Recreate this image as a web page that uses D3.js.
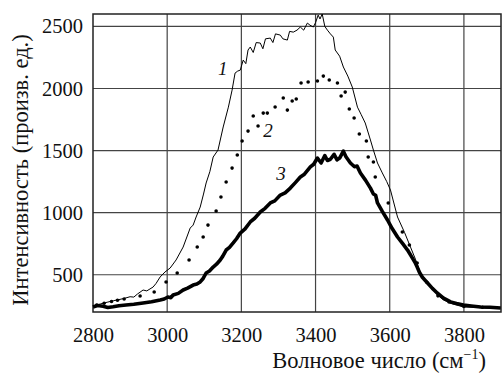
<!DOCTYPE html>
<html>
<head>
<meta charset="utf-8">
<script src="https://cdn.jsdelivr.net/npm/d3@7"></script>
<style>
  body { margin: 0; background: #fff; }
  #chart text { font-family: "Liberation Serif" !important; }
</style>
</head>
<body>
<svg id="chart" width="502" height="374"></svg>
<script>
// curve 1 — thin line
const curve1 = [
  [2800,248],[2820,265],[2840,280],[2855,291],[2870,300],[2885,310],[2900,323],[2910,320],
  [2920,345],[2935,377],[2945,370],[2962,401],[2970,430],[2981,482],[2994,522],[3008,554],
  [3024,619],[3043,723],[3062,876],[3070,900],[3078,965],[3089,1045],[3098,1150],[3105,1239],
  [3115,1330],[3124,1448],[3137,1504],[3151,1690],[3165,1850],[3175,1987],[3183,2124],
  [3190,2140],[3197,2148],[3205,2229],[3212,2200],[3218,2310],[3224,2334],[3232,2290],
  [3240,2370],[3251,2366],[3258,2320],[3265,2400],[3278,2406],[3285,2370],[3292,2440],
  [3305,2430],[3312,2400],[3324,2390],[3330,2460],[3340,2454],[3350,2470],[3359,2495],
  [3368,2470],[3378,2527],[3385,2510],[3394,2495],[3400,2530],[3407,2591],[3412,2560],
  [3418,2600],[3425,2500],[3432,2470],[3440,2440],[3448,2414],[3453,2310],[3465,2260],
  [3475,2173],[3487,2100],[3499,2012],[3513,1850],[3523,1790],[3534,1722],[3548,1585],
  [3556,1504],[3567,1400],[3580,1320],[3592,1250],[3602,1182],[3621,965],[3640,840],
  [3656,723],[3670,620],[3683,514],[3696,460],[3710,401],[3728,340],[3745,297],[3770,265],
  [3799,240],[3830,238],[3860,232],[3899,232]
];

// curve 2 — dots
const curve2 = [
  [2810,255],[2830,270],[2850,285],[2866,295],[2884,305],[2927,329],[2965,361],[2997,442],
  [3027,514],[3059,619],[3081,723],[3097,804],[3110,900],[3132,1013],[3145,1126],[3159,1247],
  [3175,1359],[3189,1464],[3202,1577],[3218,1657],[3232,1778],[3245,1698],[3259,1802],
  [3270,1802],[3291,1851],[3313,1923],[3324,1826],[3337,1899],[3348,1915],[3361,2044],
  [3380,2052],[3405,2060],[3421,2100],[3437,2068],[3459,2044],[3469,1939],[3480,1971],
  [3491,1835],[3504,1762],[3518,1633],[3537,1577],[3542,1448],[3556,1408],[3561,1287],
  [3596,1078],[3634,844],[3653,739],[3674,595],[3700,440],[3730,330],[3760,280],[3800,245],
  [3850,238]
];

// curve 3 — thick line
const curve3 = [
  [2800,240],[2812,252],[2827,246],[2840,236],[2854,242],[2870,250],[2889,256],[2910,262],
  [2935,272],[2958,282],[2981,297],[2992,305],[3002,321],[3010,315],[3016,337],[3030,350],
  [3043,377],[3055,392],[3070,417],[3080,425],[3089,442],[3097,470],[3105,514],[3114,530],
  [3124,562],[3133,585],[3143,619],[3150,650],[3159,699],[3168,720],[3178,756],[3187,790],
  [3197,836],[3210,870],[3224,925],[3236,955],[3251,1005],[3264,1035],[3278,1078],
  [3290,1095],[3305,1142],[3318,1160],[3332,1198],[3345,1240],[3359,1287],[3370,1310],
  [3386,1368],[3395,1390],[3405,1440],[3415,1400],[3425,1460],[3432,1420],[3440,1430],
  [3450,1470],[3458,1425],[3465,1440],[3475,1495],[3482,1450],[3494,1400],[3505,1370],
  [3512,1375],[3521,1319],[3535,1260],[3548,1198],[3556,1150],[3562,1140],[3567,1078],
  [3580,1010],[3594,941],[3607,870],[3621,804],[3635,750],[3648,699],[3660,640],[3668,600],
  [3674,562],[3680,520],[3688,480],[3702,434],[3715,390],[3728,353],[3745,312],[3764,281],
  [3780,268],[3799,256],[3820,248],[3845,240],[3870,238],[3899,232]
];

const xTicks = [2800, 3000, 3200, 3400, 3600, 3800];
const yTicks = [500, 1000, 1500, 2000, 2500];
const curveLabels = [
  { text: "1", at: [3137, 2108] },
  { text: "2", at: [3259, 1609] },
  { text: "3", at: [3294, 1263] }
];

const svg = d3.select("#chart");
const pLeft = 93, pRight = 501, pTop = 14, pBottom = 312;

const x = d3.scaleLinear().domain([2800, 3900]).range([pLeft, pRight]);
const y = d3.scaleLinear().domain([200, 2600]).range([pBottom, pTop]);

// grid
const grid = svg.append("g");
grid.selectAll("line.v")
  .data(xTicks.slice(1))
  .enter().append("line")
  .attr("x1", d => x(d)).attr("x2", d => x(d))
  .attr("y1", pTop).attr("y2", pBottom)
  .attr("stroke", "#444").attr("stroke-width", 1.2);
grid.selectAll("line.h")
  .data(yTicks)
  .enter().append("line")
  .attr("x1", pLeft).attr("x2", pRight)
  .attr("y1", d => y(d)).attr("y2", d => y(d))
  .attr("stroke", "#444").attr("stroke-width", 1.2);

// frame
svg.append("rect")
  .attr("x", pLeft).attr("y", pTop)
  .attr("width", pRight - pLeft).attr("height", pBottom - pTop)
  .attr("fill", "none").attr("stroke", "#222").attr("stroke-width", 1.5);

// axes (labels only)
const xAxis = svg.append("g")
  .attr("transform", "translate(0," + pBottom + ")")
  .call(d3.axisBottom(x).tickValues(xTicks).tickSize(0).tickPadding(15).tickFormat(d3.format("d")));
const yAxis = svg.append("g")
  .attr("transform", "translate(" + pLeft + ",0)")
  .call(d3.axisLeft(y).tickValues(yTicks).tickSize(0).tickPadding(10).tickFormat(d3.format("d")));
[xAxis, yAxis].forEach(a => {
  a.select(".domain").remove();
  a.attr("font-family", "Liberation Serif").attr("font-size", 20);
  a.selectAll("text")
    .style("font-family", "Liberation Serif").style("font-size", "20.5px").attr("fill", "#111");
});

const line = d3.line().x(d => x(d[0])).y(d => y(d[1]));

svg.append("path").datum(curve1)
  .attr("d", line).attr("fill", "none").attr("stroke", "#000").attr("stroke-width", 1);

svg.append("g").selectAll("circle")
  .data(curve2)
  .enter().append("circle")
  .attr("cx", d => x(d[0])).attr("cy", d => y(d[1]))
  .attr("r", 1.8).attr("fill", "#000");

svg.append("path").datum(curve3)
  .attr("d", line).attr("fill", "none").attr("stroke", "#000")
  .attr("stroke-width", 3.6).attr("stroke-linejoin", "round");

// curve numbers
svg.selectAll("text.lbl")
  .data(curveLabels)
  .enter().append("text")
  .attr("x", d => x(d.at[0])).attr("y", d => y(d.at[1]))
  .style("font-family", "Liberation Serif").style("font-style", "italic").style("font-size", "19px")
  .attr("fill", "#111")
  .text(d => d.text);

// axis titles
svg.append("text")
  .attr("transform", "translate(28,170) rotate(-90)")
  .attr("text-anchor", "middle")
  .style("font-family", "Liberation Serif").style("font-size", "22.5px").attr("fill", "#111")
  .text("Интенсивность (произв. ед.)");

const xt = svg.append("text")
  .attr("x", 486).attr("y", 368)
  .attr("text-anchor", "end")
  .style("font-family", "Liberation Serif").style("font-size", "22.5px").attr("fill", "#111");
xt.append("tspan").text("Волновое число (см");
xt.append("tspan").style("font-size", "14px").attr("dy", -9).text("−1");
xt.append("tspan").attr("dy", 9).text(")");
</script>
</body>
</html>
